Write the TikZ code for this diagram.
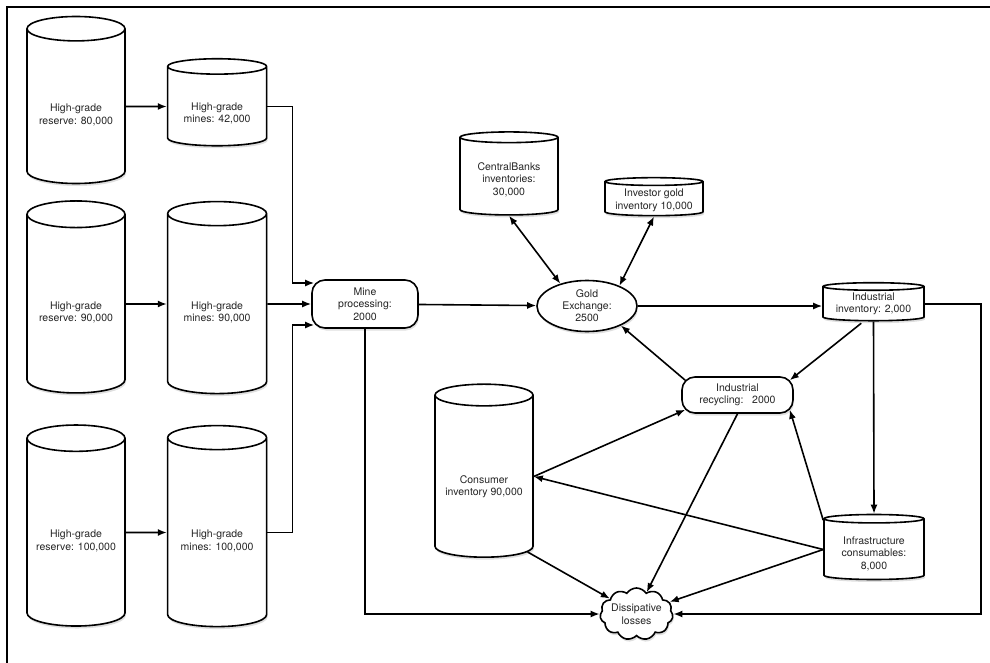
\documentclass[tikz,border=0pt]{standalone}
\usepackage{fontspec}
\setmainfont{TeX Gyre Heros}
\usetikzlibrary{positioning,calc,shapes.geometric,shapes.symbols,arrows.meta,shadows}

% pushes the first text line of a store down below its lid
\newcommand{\lid}[1]{\rule{0pt}{#1}}

\tikzset{
  store/.style={draw=black, line width=1.6pt, cylinder, shape border rotate=90,
    fill=white, text=black!85, align=center, inner sep=0pt,
    font=\fontsize{10.5}{12.5}\selectfont,
    drop shadow={opacity=0.25, shadow xshift=1pt, shadow yshift=-2.5pt}},
  stage/.style={draw=black, line width=1.6pt, rectangle, rounded corners=13pt,
    fill=white, text=black!85, align=center, inner sep=0pt,
    font=\fontsize{10.5}{12.5}\selectfont,
    drop shadow={opacity=0.25, shadow xshift=1pt, shadow yshift=-2.5pt}},
}

\begin{document}
\begin{tikzpicture}[x=1pt, y=-1pt, line width=1.6pt, >={Latex[length=9pt,width=7pt]}]
  \useasboundingbox (0,0) rectangle (990,663);

  % frame
  \draw[line width=2.5pt] (7,663) -- (7,7) -- (990,7);

  %reserves and mines
  \node[store, aspect=0.33, minimum width=98pt, minimum height=167pt] (res1) at (76,106.5) {\lid{25pt}High-grade\\reserve: 80,000};
  \node[store, aspect=0.23, minimum width=99pt, minimum height=87pt, right=41pt of res1] (mine1) {\lid{22pt}High-grade\\mines: 42,000};

  \node[store, aspect=0.36, minimum width=98pt, minimum height=192pt] (res2) at (76,304) {\lid{25pt}High-grade\\reserve: 90,000};
  \node[store, aspect=0.36, minimum width=99pt, minimum height=192pt, right=41pt of res2] (mine2) {\lid{25pt}High-grade\\mines: 90,000};

  \node[store, aspect=0.33, minimum width=98pt, minimum height=201pt] (res3) at (76,532.5) {\lid{25pt}High-grade\\reserve: 100,000};
  \node[store, aspect=0.33, minimum width=99pt, minimum height=201pt, right=41pt of res3] (mine3) {\lid{25pt}High-grade\\mines: 100,000};

  %processing and exchange
  \node[stage, minimum width=106pt, minimum height=48pt] (proc) at (365,304) {Mine\\processing:\\2000};
  \node[draw=black, ellipse, fill=white, text=black!85, align=center, inner sep=0pt,
    font=\fontsize{10.5}{12}\selectfont,
    minimum width=100pt, minimum height=51pt,
    drop shadow={opacity=0.25, shadow xshift=1pt, shadow yshift=-2.5pt}] (gold) at (587,306) {Gold\\Exchange:\\2500};

  %inventories
  \node[store, aspect=0.17, minimum width=98pt, minimum height=83pt] (cb) at (509,176.5) {\lid{14pt}CentralBanks\\inventories:\\30,000};
  \node[store, aspect=0.1, minimum width=98pt, minimum height=38pt] (inv) at (654,199) {\lid{10pt}Investor gold\\inventory 10,000};
  \node[store, aspect=0.1, minimum width=101pt, minimum height=38pt] (indinv) at (873.5,304) {Industrial\\inventory: 2,000};
  \node[store, aspect=0.13, minimum width=100pt, minimum height=65pt] (infra) at (874,549.5) {\lid{16pt}Infrastructure\\consumables:\\8,000};
  \node[store, aspect=0.28, minimum width=98pt, minimum height=173pt] (cons) at (484,476.5) {\lid{28pt}Consumer\\inventory 90,000};

  %recycling
  \node[stage, minimum width=111pt, minimum height=36pt] (recyc) at (737.5,395) {Industrial\\recycling:\ \ \ 2000};

  %losses
  \node[draw=black, cloud, cloud puffs=11, cloud puff arc=115, aspect=1.45, fill=white,
    text=black!85, align=center, inner sep=0pt, font=\fontsize{10.5}{12.5}\selectfont,
    minimum width=73pt, minimum height=52pt,
    drop shadow={opacity=0.25, shadow xshift=1pt, shadow yshift=-2.5pt}] (loss) at (636.5,614)
    {\makebox[0pt]{Dissipative}\\\makebox[0pt]{losses}};

  \path[->]
    %reserves into mines
    (res1) edge (mine1)
    (res2) edge (mine2)
    (res3) edge (mine3)
    (mine2) edge (proc)

    %exchange
    (proc) edge (gold)
    (cb.south) edge[<->] (gold.140)
    (inv.south) edge[<->] (gold.32)
    (gold.east) edge (gold.east -| indinv.west)

    %industrial loop
    ($(indinv.south west)+(5,2)$) edge ($(recyc.north east)+(-4,4)$)
    (indinv.south) edge (infra.north)
    (infra.150) edge ($(recyc.south east)+(-4,-4)$)
    ($(recyc.north west)+(4,4)$) edge (gold.-30)
    (cons.east) edge ($(recyc.south west)+(4,-4)$)
    (infra.west) edge (cons.east)

    %losses
    (recyc.south) edge (loss.65)
    (cons.-60) edge (loss.150)
    (infra.west) edge (loss.20)
    ;

  \draw[->] (mine1.east) -- ++(25,0) |- ($(proc.west)+(3,-21)$);
  \draw[->] (mine3.east) -- ++(25,0) |- ($(proc.west)+(3,21)$);
  \draw[->] (proc.south) |- (loss.west);
  \draw[->] (indinv.east) -- ++(56,0) |- (loss.east);
\end{tikzpicture}
\end{document}
